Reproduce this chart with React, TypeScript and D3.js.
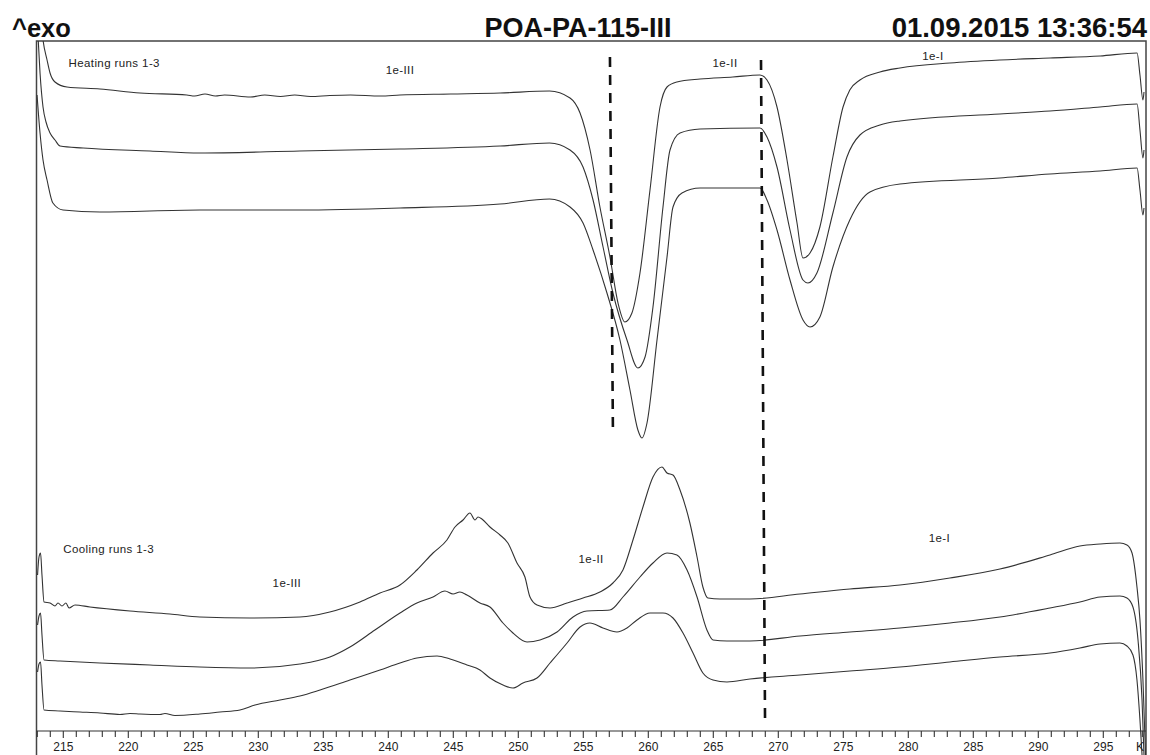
import React from "react";
import * as d3 from "d3";

// Temperature (K) vs. DSC signal (arb. units, exo up)
const heatingRun1: [number, number][] = [
  [213.28, 720], [213.44, 700], [213.75, 680], [213.98, 667], [214.36, 658], [215.28, 653],
  [217.82, 651], [220.9, 647], [224.5, 645], [225.1, 644], [225.9, 646], [226.7, 644],
  [227.4, 645], [229.4, 643], [230.5, 645], [231.7, 643.5], [232.8, 645], [234.0, 643.5],
  [235.5, 644.5], [237.1, 645], [239.4, 644], [240.9, 645], [244.8, 646], [248.6, 647],
  [252.4, 649], [253.98, 642], [254.75, 627], [255.52, 590], [256.28, 533], [257.05, 483],
  [257.67, 437], [258.2, 418], [258.74, 427], [259.36, 467], [260.13, 550], [260.9, 633],
  [261.44, 653], [262.2, 658], [263.98, 661], [266.5, 663], [268.59, 665], [269.13, 660],
  [269.9, 633], [270.67, 580], [271.44, 517], [271.9, 482], [272.44, 487], [273.2, 513],
  [274.2, 583], [274.98, 633], [275.5, 650], [276.28, 660], [277.82, 668], [279.36, 672],
  [283.2, 677], [287.05, 680], [290.9, 682], [294.75, 684], [297.6, 687], [297.82, 665],
  [298.05, 640], [298.13, 648],
];
const heatingRun2: [number, number][] = [
  [213.05, 705], [213.21, 667], [213.44, 633], [213.67, 618], [213.98, 607], [214.36, 600],
  [214.75, 594], [216.52, 592], [221.67, 589], [225.5, 587], [233.2, 589], [240.9, 591],
  [248.6, 594], [252.4, 597], [253.98, 590], [254.98, 573], [255.75, 540], [256.52, 493],
  [257.28, 447], [258.36, 400], [259.2, 372], [259.75, 383], [260.36, 433], [261.13, 533],
  [261.67, 590], [262.44, 607], [263.98, 611], [268.59, 612], [269.13, 603], [269.9, 573],
  [270.9, 510], [271.9, 460], [272.28, 457], [272.97, 467], [274.2, 527], [275.28, 583],
  [276.28, 605], [277.82, 615], [279.36, 619], [287.05, 626], [290.9, 629], [294.75, 633],
  [297.6, 636], [297.82, 610], [298.05, 582], [298.13, 590],
];
const heatingRun3: [number, number][] = [
  [212.98, 645], [213.21, 607], [213.44, 580], [213.75, 560], [214.2, 537], [214.98, 530],
  [217.82, 528], [225.5, 530], [233.2, 530], [240.9, 532], [248.6, 536], [252.4, 541],
  [253.98, 533], [254.98, 517], [255.75, 490], [256.82, 447], [257.82, 400], [258.59, 350],
  [259.2, 310], [259.51, 302], [259.9, 317], [260.67, 400], [261.44, 483], [261.9, 533],
  [262.59, 547], [263.98, 552], [268.59, 552], [269.13, 540], [269.9, 510], [270.9, 460],
  [271.9, 420], [272.44, 413], [273.2, 423], [274.2, 473], [275.5, 520], [277.05, 548],
  [279.36, 556], [287.05, 562], [290.9, 566], [294.75, 569], [297.6, 572], [297.82, 550],
  [298.05, 525], [298.13, 532],
];
const coolingRun1: [number, number][] = [
  [213.02, 165], [213.13, 183], [213.25, 187], [213.36, 165], [213.52, 138], [213.98, 137],
  [214.36, 134], [214.59, 137], [214.9, 134], [215.2, 137], [215.44, 132], [215.9, 135],
  [217.05, 133], [220.13, 129], [223.2, 126], [225.5, 123], [229.36, 122], [233.2, 123],
  [235.5, 128], [237.82, 138], [239.36, 147], [240.9, 155], [242.2, 170], [243.44, 187],
  [244.51, 200], [245.13, 213], [245.75, 220], [246.28, 227], [246.67, 220], [246.9, 223],
  [247.2, 221], [247.82, 213], [248.59, 205], [249.2, 197], [249.9, 177], [250.51, 163],
  [250.9, 143], [251.44, 135], [252.44, 132], [253.75, 137], [254.98, 142], [256.28, 148],
  [257.28, 157], [258.05, 170], [258.82, 200], [259.59, 233], [260.36, 263], [261.05, 273],
  [261.44, 267], [261.9, 265], [262.44, 250], [263.2, 217], [263.75, 183], [264.2, 153],
  [264.59, 142], [265.51, 141], [267.82, 141], [271.67, 146], [275.51, 151], [279.36, 155],
  [283.2, 162], [287.05, 171], [290.9, 185], [293.2, 194], [294.75, 196], [296.28, 197],
  [296.82, 195], [297.21, 187], [297.59, 153], [297.82, 120], [298.05, 60], [298.25, -15],
];
const coolingRun2: [number, number][] = [
  [213.02, 115], [213.13, 124], [213.25, 127], [213.36, 105], [213.52, 80], [214.75, 79],
  [217.82, 77], [221.67, 75], [225.5, 73], [229.36, 72], [233.2, 76], [235.51, 83],
  [237.05, 93], [238.97, 110], [240.9, 127], [242.2, 137], [243.44, 143], [244.36, 149],
  [244.98, 146], [245.51, 148], [246.05, 145], [247.05, 137], [247.82, 133], [248.82, 117],
  [249.59, 107], [250.67, 98], [251.67, 100], [252.98, 108], [254.21, 123], [255.28, 129],
  [257.05, 130], [258.05, 143], [259.36, 163], [260.36, 177], [261.44, 187], [262.2, 185],
  [262.98, 170], [263.75, 143], [264.51, 110], [264.98, 100], [266.05, 99], [267.82, 99],
  [271.67, 104], [275.51, 108], [279.36, 112], [283.2, 117], [287.05, 123], [290.9, 132],
  [293.2, 138], [294.75, 143], [296.28, 144], [296.82, 142], [297.28, 133], [297.67, 100],
  [297.98, 40], [298.13, -15],
];
const coolingRun3: [number, number][] = [
  [213.02, 68], [213.13, 76], [213.25, 78], [213.36, 55], [213.52, 30], [214.75, 29],
  [216.28, 28], [217.82, 27], [219.36, 25.5], [220.13, 26.5], [220.9, 26], [222.44, 25.5],
  [222.82, 26.5], [223.59, 24.5], [225.5, 26], [227.05, 28], [228.59, 30], [229.75, 35],
  [231.67, 40], [233.2, 44], [234.75, 50], [237.05, 60], [239.36, 70], [240.9, 77],
  [242.2, 82], [243.75, 84], [244.75, 81], [246.05, 75], [247.05, 70], [247.82, 62],
  [248.82, 55], [249.59, 52], [250.36, 57], [251.44, 62], [252.44, 77], [253.75, 97],
  [254.75, 113], [255.51, 117], [256.51, 112], [257.59, 108], [258.36, 112], [259.13, 120],
  [260.13, 127], [261.13, 127], [261.9, 122], [262.67, 107], [263.44, 87], [264.2, 67],
  [264.98, 60], [266.05, 58], [267.82, 61], [271.67, 65], [275.51, 69], [279.36, 73],
  [283.2, 78], [287.05, 83], [290.9, 87], [293.2, 92], [294.75, 96], [296.28, 97],
  [296.82, 94], [297.28, 85], [297.59, 60], [297.82, 20], [297.98, -15],
];

const dividerLines: [number, number][][] = [
  [[257.05, 683], [257.28, 307]],
  [[268.67, 680], [268.98, 18]],
];

const tickLabels = [215, 220, 225, 230, 235, 240, 245, 250, 255, 260, 265, 270, 275, 280, 285, 290, 295];
const minorTicks = d3.range(213, 299);

const regionLabels: { text: string; T: number; v: number }[] = [
  { text: "Heating runs 1-3", T: 215.4, v: 673 },
  { text: "1e-III", T: 240.9, v: 666 },
  { text: "1e-II", T: 265.9, v: 673 },
  { text: "1e-I", T: 281.9, v: 680 },
  { text: "Cooling runs 1-3", T: 215.0, v: 187 },
  { text: "1e-III", T: 232.2, v: 153 },
  { text: "1e-II", T: 255.6, v: 177 },
  { text: "1e-I", T: 282.4, v: 198 },
];

export default function App() {
  const W = 1150;
  const H = 755;
  const left = 36.5;
  const right = 1146;
  const top = 41;
  const axisY = 731;

  const x = d3.scaleLinear().domain([215, 295]).range([63.3, 1103.3]);
  const y = d3.scaleLinear().domain([0, 700]).range([740, 40]);

  const line = d3
    .line<[number, number]>()
    .x((d) => x(d[0]))
    .y((d) => y(d[1]))
    .curve(d3.curveMonotoneX);

  const series = [heatingRun1, heatingRun2, heatingRun3, coolingRun1, coolingRun2, coolingRun3];
  const font = "Arial, 'Liberation Sans', Helvetica, sans-serif";

  return (
    <svg
      width={W}
      height={H}
      style={{ position: "absolute", left: 0, top: 0, background: "#fff" }}
      fontFamily={font}
    >
      <defs>
        <clipPath id="plotClip">
          <rect x={left} y={top} width={right - left} height={H - top} />
        </clipPath>
      </defs>
      <rect x={0} y={0} width={W} height={H} fill="#fff" />

      {/* header */}
      <text x={12} y={37} fontSize={25.5} fontWeight="bold" fill="#111">^exo</text>
      <text x={578} y={37} fontSize={27} fontWeight="bold" fill="#111" textAnchor="middle">
        POA-PA-115-III
      </text>
      <text x={1147} y={37} fontSize={27.5} fontWeight="bold" fill="#111" textAnchor="end">
        01.09.2015 13:36:54
      </text>

      {/* frame */}
      <path
        d={`M${left},${H} L${left},${top} L${right},${top} L${right},${H}`}
        fill="none"
        stroke="#444"
        strokeWidth={1.5}
      />

      {/* curves */}
      <g clipPath="url(#plotClip)">
        {series.map((s, i) => (
          <path key={i} d={line(s) || ""} fill="none" stroke="#333" strokeWidth={1.1} />
        ))}
      </g>

      {/* dashed dividers */}
      {dividerLines.map((l, i) => (
        <line
          key={i}
          x1={x(l[0][0])}
          y1={y(l[0][1])}
          x2={x(l[1][0])}
          y2={y(l[1][1])}
          stroke="#111"
          strokeWidth={2.6}
          strokeDasharray="10,8"
        />
      ))}

      {/* region labels */}
      {regionLabels.map((r, i) => (
        <text
          key={i}
          x={x(r.T)}
          y={y(r.v)}
          fontSize={11.5}
          fill="#222"
          letterSpacing={0.4}
          textAnchor={r.text.includes("runs") ? "start" : "middle"}
        >
          {r.text}
        </text>
      ))}

      {/* x axis */}
      <line x1={left} x2={right} y1={axisY} y2={axisY} stroke="#333" strokeWidth={1.2} />
      {minorTicks.map((t) => (
        <line
          key={t}
          x1={x(t)}
          x2={x(t)}
          y1={axisY}
          y2={axisY + (t % 5 === 0 ? 7 : 6)}
          stroke="#333"
          strokeWidth={1.1}
        />
      ))}
      {tickLabels.map((t) => (
        <text key={t} x={x(t)} y={751} fontSize={12} fill="#222" textAnchor="middle">
          {t}
        </text>
      ))}
      <text x={1140} y={751} fontSize={12} fill="#222" textAnchor="middle">K</text>
    </svg>
  );
}
